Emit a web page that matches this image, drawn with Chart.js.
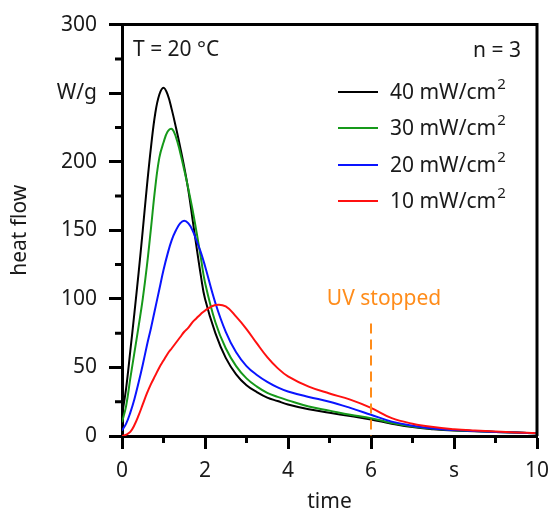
<!DOCTYPE html>
<html>
<head>
<meta charset="utf-8">
<script src="https://cdn.jsdelivr.net/npm/chart.js@4.4.0/dist/chart.umd.min.js"></script>
<style>
  html, body { margin: 0; padding: 0; background: #fff; }
  #wrap { width: 560px; height: 517px; }
</style>
</head>
<body>
<div id="wrap"><canvas id="chart" width="560" height="517"></canvas></div>
<script>
// time axis (s), shared by all curves
const time = [0, 0.1, 0.2, 0.3, 0.4, 0.5, 0.6, 0.7, 0.8, 0.9, 1.0, 1.1, 1.2, 1.3, 1.4, 1.5, 1.6, 1.7, 1.8, 1.9, 2.0,
              2.25, 2.5, 2.75, 3.0, 3.25, 3.5, 3.75, 4.0,
              4.5, 5.0, 5.5, 6.0, 6.5, 7.0, 7.5, 8.0, 8.5, 9.0, 9.5, 10.0];

// heat flow (W/g) per irradiance
const flow40 = [15, 35, 62, 90, 119, 150, 182, 211, 235, 249, 254, 249, 238, 225, 211, 196, 179, 158, 137, 117, 100,
                75, 57, 45, 37, 32, 28, 25.5, 23,
                19.5, 17, 14.5, 12, 9, 6.5, 5, 4, 3.5, 3, 2.5, 2];
const flow30 = [10, 22, 42, 61, 80, 100, 124, 152, 181, 203, 214, 222, 224, 218, 207, 194, 180, 165, 148, 130, 112,
                83, 64, 51, 42, 36, 31.5, 28.5, 26,
                21.5, 18.5, 15.5, 13, 9.5, 7, 5.3, 4.2, 3.6, 3, 2.5, 2];
const flow20 = [4, 9, 17, 27, 39, 52, 66, 79, 93, 107, 121, 133, 143, 150, 155, 157, 155, 150, 142, 134, 124,
                97, 76, 61, 51, 44.5, 39.5, 35.5, 32.5,
                28.5, 25, 20.5, 15.5, 10.5, 7.5, 5.5, 4.3, 3.6, 3, 2.5, 2];
const flow10 = [0, 1, 3, 8, 15, 23, 31, 38, 44, 50, 55, 60, 64, 68, 72, 76, 79, 83, 86, 89, 91.5,
                95.5, 94.5, 87, 78, 67.5, 57.5, 49.5, 43.5,
                36, 31, 26.5, 20.5, 13, 9, 6.5, 5, 4, 3.2, 2.6, 2];

const seriesLabels = ["40", "30", "20", "10"];
const seriesColors = ["#000000", "#16991a", "#0a14ff", "#ff1010"];
const seriesValues = [flow40, flow30, flow20, flow10];

const yLabels = { 250: "W/g" };
const xLabels = { 8: "s" };
const uvStop = 6;
const uvTop = 82;

const FONT = "'Noto Sans', 'Open Sans', sans-serif";

const datasets = seriesValues.map((vals, i) => ({
    label: seriesLabels[i] + " mW/cm²",
    data: time.map((t, j) => ({ x: t, y: vals[j] })),
    borderColor: seriesColors[i],
    borderWidth: 2,
    pointRadius: 0,
    tension: 0.4,
    fill: false
})).reverse(); // black on top

// frame, minor ticks, annotations, legend
const decorPlugin = {
    id: "decor",
    afterDatasetsDraw(chart) {
        const ctx = chart.ctx;
        const a = chart.chartArea;
        const xs = chart.scales.x, ys = chart.scales.y;
        ctx.save();

        // UV stopped marker
        const ux = xs.getPixelForValue(uvStop);
        ctx.strokeStyle = "#ff8c1a";
        ctx.lineWidth = 2;
        ctx.setLineDash([10, 6]);
        ctx.beginPath();
        ctx.moveTo(ux, ys.getPixelForValue(uvTop));
        ctx.lineTo(ux, ys.getPixelForValue(0));
        ctx.stroke();
        ctx.setLineDash([]);
        ctx.fillStyle = "#ff8c1a";
        ctx.font = "21px " + FONT;
        ctx.textAlign = "center";
        ctx.textBaseline = "middle";
        ctx.fillText("UV stopped", ux + 13, 299);

        // frame
        ctx.strokeStyle = "#000";
        ctx.lineWidth = 3;
        ctx.beginPath();
        ctx.moveTo(a.left - 1.5, a.top);
        ctx.lineTo(a.right, a.top);
        ctx.lineTo(a.right, a.bottom);
        ctx.stroke();

        // minor ticks
        ctx.lineWidth = 3;
        ctx.beginPath();
        for (let v = 25; v < 300; v += 50) {
            const py = ys.getPixelForValue(v);
            ctx.moveTo(a.left - 7, py);
            ctx.lineTo(a.left, py);
        }
        for (let v = 1; v < 10; v += 2) {
            const px = xs.getPixelForValue(v);
            ctx.moveTo(px, a.bottom);
            ctx.lineTo(px, a.bottom + 7);
        }
        ctx.stroke();

        // text annotations
        ctx.fillStyle = "#1a1a1a";
        ctx.font = "21px " + FONT;
        ctx.textBaseline = "middle";
        ctx.textAlign = "left";
        ctx.fillText("T = 20 °C", 133, 50);
        ctx.textAlign = "right";
        ctx.fillText("n = 3", 521, 51);

        // legend
        const rows = [92, 128, 165, 201];
        rows.forEach((ry, i) => {
            ctx.strokeStyle = seriesColors[i];
            ctx.lineWidth = 2;
            ctx.beginPath();
            ctx.moveTo(338, ry);
            ctx.lineTo(378, ry);
            ctx.stroke();
            ctx.fillStyle = "#1a1a1a";
            ctx.textAlign = "left";
            ctx.font = "21px " + FONT;
            const main = seriesLabels[i] + " mW/cm";
            ctx.fillText(main, 390, ry + 1);
            const w = ctx.measureText(main).width;
            ctx.font = "15px " + FONT;
            ctx.fillText("2", 390 + w + 1, ry - 7);
        });
        ctx.restore();
    }
};

new Chart(document.getElementById("chart"), {
    type: "line",
    data: { datasets },
    options: {
        responsive: false,
        animation: false,
        layout: { padding: { left: 0, top: 21, right: 23, bottom: 0 } },
        plugins: { legend: { display: false }, tooltip: { enabled: false } },
        scales: {
            x: {
                type: "linear",
                min: 0, max: 10,
                afterFit(s) { s.height = 81; },
                ticks: {
                    stepSize: 2,
                    color: "#1a1a1a",
                    font: { family: FONT, size: 21 },
                    padding: 9,
                    maxRotation: 0,
                    callback: v => xLabels[v] !== undefined ? xLabels[v] : String(v)
                },
                grid: { drawOnChartArea: false, drawTicks: true, tickLength: 13, tickWidth: 3, tickColor: "#000" },
                border: { display: true, width: 3, color: "#000" },
                title: { display: true, text: "time", color: "#1a1a1a", font: { family: FONT, size: 21 }, padding: { top: 0, bottom: 2 } }
            },
            y: {
                type: "linear",
                min: 0, max: 300,
                afterFit(s) { s.width = 122; },
                ticks: {
                    stepSize: 50,
                    color: "#1a1a1a",
                    font: { family: FONT, size: 21 },
                    padding: 12,
                    callback: v => yLabels[v] !== undefined ? yLabels[v] : String(v)
                },
                grid: { drawOnChartArea: false, drawTicks: true, tickLength: 13, tickWidth: 3, tickColor: "#000" },
                border: { display: true, width: 3, color: "#000" },
                title: { display: true, text: "heat flow", color: "#1a1a1a", font: { family: FONT, size: 21 }, padding: { top: 7, bottom: 0 } }
            }
        }
    },
    plugins: [decorPlugin]
});
</script>
</body>
</html>
